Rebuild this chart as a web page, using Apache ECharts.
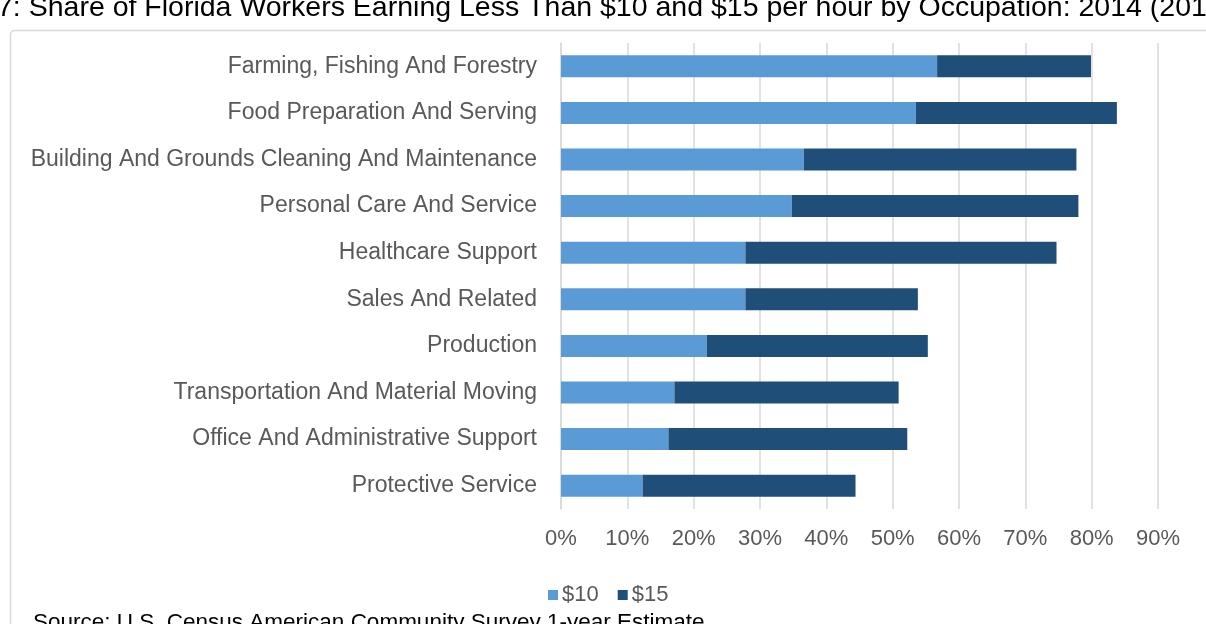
<!DOCTYPE html>
<html><head><meta charset="utf-8">
<script src="https://cdn.jsdelivr.net/npm/echarts@6/dist/echarts.min.js"></script>
<style>html,body{margin:0;padding:0;background:#fff;}#c{width:1206px;height:624px;}</style>
</head><body><div id="c"></div>
<script>
const categories = [
  "Farming, Fishing And Forestry",
  "Food Preparation And Serving",
  "Building And Grounds Cleaning And Maintenance",
  "Personal Care And Service",
  "Healthcare Support",
  "Sales And Related",
  "Production",
  "Transportation And Material Moving",
  "Office And Administrative Support",
  "Protective Service"
];
const under10 = [56.7, 53.5, 36.6, 34.8, 27.8, 27.8, 22.0, 17.1, 16.2, 12.3];
const from10to15 = [23.2, 30.3, 41.1, 43.2, 46.9, 26.0, 33.3, 33.8, 36.0, 32.1];
const seriesNames = ["$10", "$15"];
const titleText = "7: Share of Florida Workers Earning Less Than $10 and $15 per hour by Occupation: 2014 (201";
const sourceText = "Source: U.S. Census American Community Survey 1-year Estimate";

const chart = echarts.init(document.getElementById('c'), null, {renderer: 'canvas'});
const font = 'Liberation Sans, Arial, sans-serif';
chart.setOption({
  animation: false,
  backgroundColor: '#ffffff',
  graphic: [
    {type: 'rect', shape: {x: 10.5, y: 30.5, width: 1220, height: 640, r: 4},
     style: {fill: 'none', stroke: '#d9d9d9', lineWidth: 1.5}, z: -1},
    {type: 'text', left: -3, top: -6,
     style: {text: titleText, font: '28.5px ' + font, fill: '#000000'}},
    {type: 'text', left: 33, top: 611,
     style: {text: sourceText, font: '22.5px ' + font, fill: '#000000'}}
  ],
  legend: {
    data: seriesNames,
    left: 543, top: 579,
    itemWidth: 10, itemHeight: 10, itemGap: 19,
    icon: 'rect',
    textStyle: {color: '#595959', fontSize: 22, fontFamily: font, padding: [0,0,0,-1]}
  },
  grid: {left: 561, right: 48, top: 43, bottom: 115, containLabel: false},
  xAxis: {
    type: 'value', min: 0, max: 90, interval: 10,
    axisLabel: {formatter: '{value}%', color: '#595959', fontSize: 22, fontFamily: font, margin: 19},
    axisLine: {show: false}, axisTick: {show: false},
    splitLine: {lineStyle: {color: '#d9d9d9', width: 1.5}}
  },
  yAxis: {
    type: 'category', data: categories, inverse: true,
    axisLabel: {color: '#595959', fontSize: 23, fontFamily: font, margin: 24},
    axisLine: {show: true, lineStyle: {color: '#d9d9d9', width: 1.5}},
    axisTick: {show: false}
  },
  series: [
    {name: seriesNames[0], type: 'bar', stack: 't', data: under10, barWidth: 22,
     itemStyle: {color: '#5b9bd5'}},
    {name: seriesNames[1], type: 'bar', stack: 't', data: from10to15, barWidth: 22,
     itemStyle: {color: '#1f4e79'}}
  ]
});
</script></body></html>
